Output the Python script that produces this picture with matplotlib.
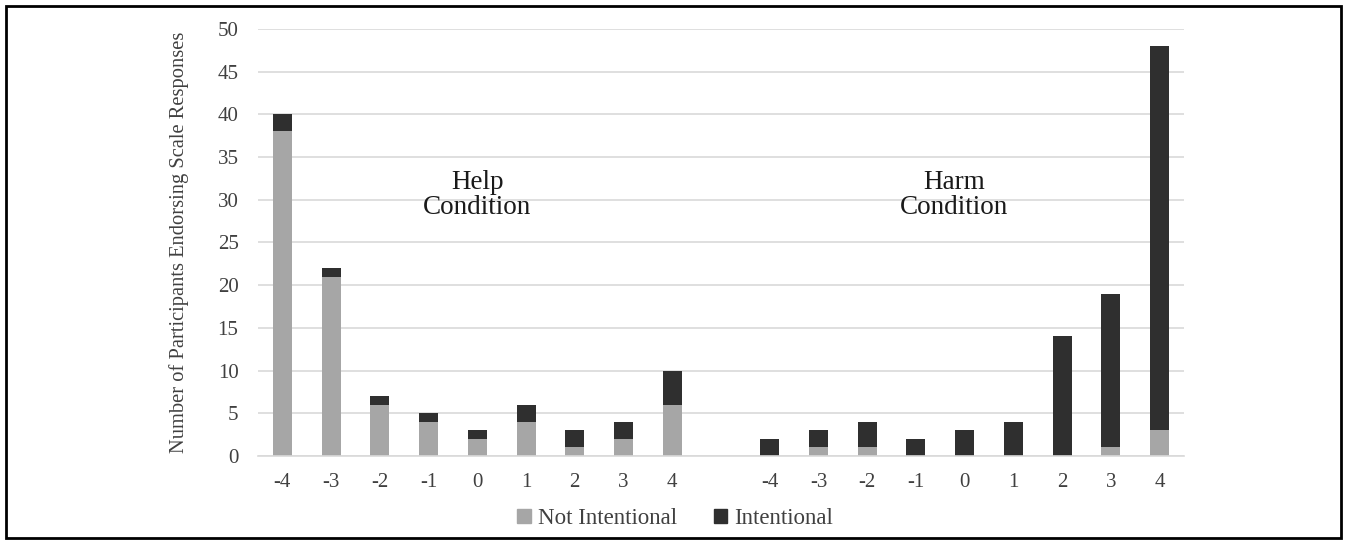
import matplotlib.pyplot as plt
from matplotlib.patches import Rectangle
from matplotlib.patches import Patch

plt.rcParams['font.family'] = ['Liberation Serif', 'DejaVu Serif']

# data
scale = ["-4", "-3", "-2", "-1", "0", "1", "2", "3", "4"]
help_not = [38, 21, 6, 4, 2, 4, 1, 2, 6]
help_int = [2, 1, 1, 1, 1, 2, 2, 2, 4]
harm_not = [0, 1, 1, 0, 0, 0, 0, 1, 3]
harm_int = [2, 2, 3, 2, 3, 4, 14, 18, 45]

grey = "#a6a6a6"
dark = "#2f2f2f"

fig = plt.figure(figsize=(13.45, 5.42), dpi=100)
ax = fig.add_axes([0.1918, 0.1587, 0.6885, 0.7878])

# help on slots 0-8, empty slot 9, harm on slots 10-18
x_help = list(range(len(scale)))
x_harm = [i + len(scale) + 1 for i in x_help]
width_bar = 0.39

ax.bar(x_help, help_not, width=width_bar, color=grey, zorder=2)
ax.bar(x_help, help_int, width=width_bar, bottom=help_not, color=dark, zorder=2)
ax.bar(x_harm, harm_not, width=width_bar, color=grey, zorder=2)
ax.bar(x_harm, harm_int, width=width_bar, bottom=harm_not, color=dark, zorder=2)

ax.set_xlim(-0.5, len(x_help) + len(x_harm) + 0.5)
ax.set_ylim(0, 50)
ax.set_yticks(range(0, 51, 5))
ax.set_xticks(x_help + x_harm)
ax.set_xticklabels(scale + scale)

ax.grid(axis="y", color="#d9d9d9", linewidth=1.2, zorder=0)
for s in ["top", "right", "left"]:
    ax.spines[s].set_visible(False)
ax.spines["bottom"].set_color("#d9d9d9")
ax.spines["bottom"].set_linewidth(1.2)
ax.tick_params(axis="both", length=0, labelsize=15, colors="#404040")
ax.tick_params(axis="y", pad=14)
ax.tick_params(axis="x", pad=12)

ax.set_ylabel("Number of Participants Endorsing Scale Responses", fontsize=14.8, color="#404040")
ax.yaxis.set_label_coords(-0.074, 0.5)

ax.text(4.0, 30.6, "Help\nCondition", ha="center", va="center", fontsize=19.5,
        linespacing=1.0, color="#1a1a1a")
ax.text(13.78, 30.6, "Harm\nCondition", ha="center", va="center", fontsize=19.5,
        linespacing=1.0, color="#1a1a1a")

handles = [Patch(color=grey, label="Not Intentional"), Patch(color=dark, label="Intentional")]
fig.legend(handles=handles, loc="center", bbox_to_anchor=(0.502, 0.043), ncol=2,
           frameon=False, fontsize=16.5, handlelength=0.6, handleheight=0.6,
           handletextpad=0.3, columnspacing=1.6, labelcolor="#404040")

# frame around the whole picture
fig.patches.append(Rectangle((0.0045, 0.008), 0.9925, 0.981, transform=fig.transFigure,
                             fill=False, edgecolor="black", linewidth=2))

plt.savefig("out.png")
